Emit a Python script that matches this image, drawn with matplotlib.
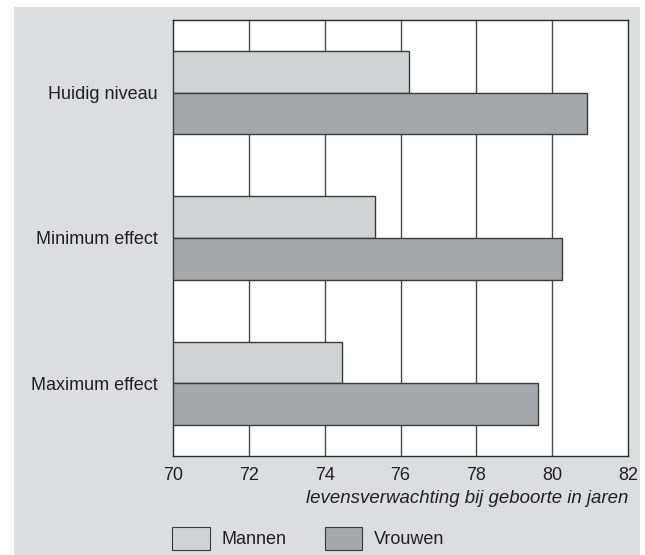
import numpy as np
import matplotlib.pyplot as plt
from matplotlib.patches import Patch, Rectangle

# data
categorieen = ['Huidig niveau', 'Minimum effect', 'Maximum effect']
mannen = [76.23, 75.32, 74.47]
vrouwen = [80.93, 80.27, 79.63]
xticks = [70, 72, 74, 76, 78, 80, 82]

c_bg = '#dcdddf'
c_man = '#d1d2d4'
c_vrouw = '#a7a8ab'
c_edge = '#3a3a3a'
c_txt = '#231f20'
fs = 13

plt.rcParams['font.family'] = ['Liberation Sans', 'DejaVu Sans']

W, H = 645, 555
fig = plt.figure(figsize=(W / 100, H / 100), dpi=100, facecolor='white')
# grey panel behind everything
fig.patches.append(Rectangle((14 / W, 0), (640 - 14) / W, (H - 7) / H,
                             transform=fig.transFigure, facecolor=c_bg,
                             edgecolor='none', zorder=-10))

ax = fig.add_axes([173 / W, (H - 456) / H, (628 - 173) / W, (456 - 20) / H])
ax.set_facecolor('white')

y = np.arange(len(categorieen))
h = 0.286
ax.barh(y - h / 2, np.array(mannen) - 70, left=70, height=h, color=c_man,
        edgecolor=c_edge, linewidth=1.0, zorder=3)
ax.barh(y + h / 2, np.array(vrouwen) - 70, left=70, height=h, color=c_vrouw,
        edgecolor=c_edge, linewidth=1.0, zorder=3)

ax.set_xlim(70, 82)
ax.set_ylim(2.5, -0.5)
ax.set_xticks(xticks)
ax.set_xticklabels([str(t) for t in xticks], fontsize=fs, color=c_txt)
ax.set_yticks(y)
ax.set_yticklabels(categorieen, fontsize=fs, color=c_txt)
ax.tick_params(length=0)
ax.tick_params(axis='y', pad=11)
ax.tick_params(axis='x', pad=8)
for t in xticks[1:-1]:
    ax.axvline(t, color='#4a4a4a', linewidth=1.0, zorder=1)
for s in ax.spines.values():
    s.set_color('#2a2a2a')
    s.set_linewidth(1.0)

ax.set_xlabel('levensverwachting bij geboorte in jaren', fontsize=13.4,
              style='italic', color=c_txt, loc='right', labelpad=4)

handles = [Patch(facecolor=c_man, edgecolor=c_edge, linewidth=0.8, label='Mannen'),
           Patch(facecolor=c_vrouw, edgecolor=c_edge, linewidth=0.8, label='Vrouwen')]
fig.legend(handles=handles, ncol=2, frameon=False, fontsize=fs,
           loc='lower left', bbox_to_anchor=(172 / W, 5 / H),
           borderpad=0, borderaxespad=0, handlelength=2.1, handleheight=1.6,
           handletextpad=0.65, columnspacing=2.1, labelcolor=c_txt)

fig.savefig('out.png', dpi=100, facecolor='white')
